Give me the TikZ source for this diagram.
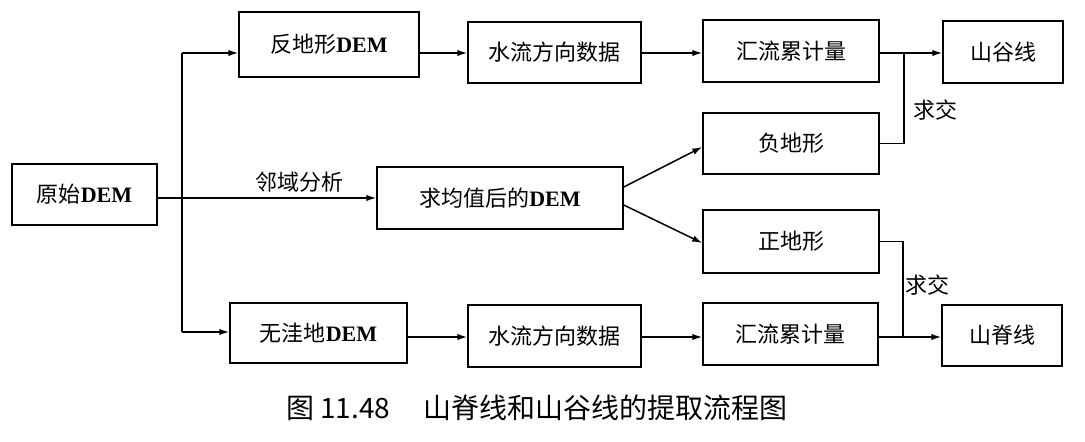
\documentclass[tikz,border=0pt]{standalone}
\usepackage{fontspec}
\setmainfont{Liberation Serif}
\newfontfamily\cjk{Noto Sans CJK SC}
\usetikzlibrary{arrows.meta,calc}
\newcommand{\dem}{\textbf{DEM}}

\begin{document}
\begin{tikzpicture}[x=1pt,y=-1pt,
  box/.style={draw,line width=1.5pt,inner sep=0pt,font=\fontsize{22}{24}\selectfont},
  flow/.style={line width=1.5pt,-{Latex[length=10pt,width=6.5pt]}},
  link/.style={line width=1.5pt},
  lbl/.style={font=\fontsize{22}{24}\selectfont\cjk,inner sep=0pt}]
\useasboundingbox (0,0) rectangle (1085,442);

% boxes
\node[box,minimum width=145pt,minimum height=61pt] (orig)   at (84.5,194.5) {{\cjk 原始}\dem};
\node[box,minimum width=180pt,minimum height=65pt] (fan)    at (329,44.5)   {{\cjk 反地形}\dem};
\node[box,minimum width=173pt,minimum height=61pt] (flowA)  at (554.5,52.5) {\cjk 水流方向数据};
\node[box,minimum width=176pt,minimum height=62pt] (accA)   at (791,51)     {\cjk 汇流累计量};
\node[box,minimum width=120pt,minimum height=62pt] (valley) at (1003,52)    {\cjk 山谷线};
\node[box,minimum width=176pt,minimum height=61pt] (neg)    at (791,143.5)  {\cjk 负地形};
\node[box,minimum width=246pt,minimum height=62pt] (mean)   at (500,198)    {{\cjk 求均值后的}\dem};
\node[box,minimum width=176pt,minimum height=63pt] (pos)    at (791,241.5)  {\cjk 正地形};
\node[box,minimum width=177pt,minimum height=60pt] (fill)   at (318.5,333)  {{\cjk 无洼地}\dem};
\node[box,minimum width=173pt,minimum height=62pt] (flowB)  at (554.5,336)  {\cjk 水流方向数据};
\node[box,minimum width=175pt,minimum height=62pt] (accB)   at (790.5,334)  {\cjk 汇流累计量};
\node[box,minimum width=120pt,minimum height=61pt] (ridge)  at (1002,335.5) {\cjk 山脊线};

% branching points and row levels
\coordinate (top) at (182,53);
\coordinate (bot) at (182,332);
\coordinate (brow) at (0,337);
\coordinate (jv) at (904,53);
\coordinate (jr) at (903,337);

% connectors
\draw[flow] (orig.east |- mean.west) -- (mean.west);
\draw[link] (top) -- (bot);
\draw[flow] (top) -- (fan.west |- top);
\draw[flow] (bot) -- (fill.west |- bot);
\draw[flow] (fan.east |- top) -- (flowA.west |- top);
\draw[flow] (flowA.east |- top) -- (accA.west |- top);
\draw[flow] (accA.east |- top) -- (valley.west |- top);
\draw[flow] (fill.east |- brow) -- (flowB.west |- brow);
\draw[flow] (flowB.east |- brow) -- (accB.west |- brow);
\draw[flow] (accB.east |- brow) -- (ridge.west |- brow);
\draw[flow] ($(mean.east)+(0,-11)$) -- ($(neg.west)+(0,3.5)$);
\draw[flow] ($(mean.east)+(0,7)$) -- ($(pos.west)+(0,1.5)$);
\draw[link] (neg.east) -| (jv);
\draw[link] (pos.east) -| (jr);

% labels
\node[lbl] (nbr)    at (299,182) {邻域分析};
\node[lbl] (isectA) at (935,110) {求交};
\node[lbl] (isectB) at (927,285) {求交};
\node[font=\fontsize{28}{30}\selectfont\cjk,inner sep=0pt] (cap) at (537,408)
  {图 11.48\hspace{1.2em}山脊线和山谷线的提取流程图};
\end{tikzpicture}
\end{document}
